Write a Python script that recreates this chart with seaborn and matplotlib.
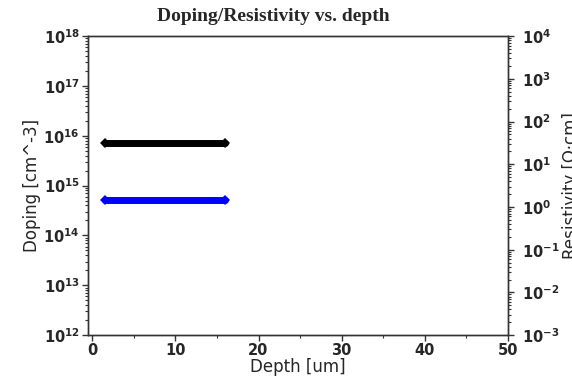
import matplotlib
matplotlib.use("Agg")
import matplotlib.pyplot as plt
import matplotlib.ticker as mticker
import numpy as np
import pandas as pd
import seaborn as sns

# Measured profile
depth_um = [1.5, 16.0]
doping_cm3 = [7.2e15, 7.2e15]
resistivity_ohmcm = [1.45, 1.45]

x_ticks = [0, 10, 20, 30, 40, 50]
doping_range = (1e12, 1e18)
resist_range = (1e-3, 1e4)

sns.set_theme(style="ticks")
plt.rcParams["font.family"] = ["DejaVu Sans"]

fig = plt.figure(figsize=(5.72, 3.80), dpi=100)
ax = fig.add_axes([0.154, 0.118, 0.734, 0.787])
ax2 = ax.twinx()

df = pd.DataFrame({"depth": depth_um, "doping": doping_cm3, "rho": resistivity_ohmcm})

sns.lineplot(data=df, x="depth", y="doping", ax=ax, color="black", lw=5,
             marker="D", markersize=5, markeredgewidth=0, legend=False)
sns.lineplot(data=df, x="depth", y="rho", ax=ax2, color="#0000ff", lw=5,
             marker="D", markersize=5, markeredgewidth=0, legend=False)

for a in (ax, ax2):
    a.set_yscale("log")
    for s in a.spines.values():
        s.set_color("#333333")
        s.set_linewidth(1.0)

ax.set_xlim(-0.5, 50)
ax.set_ylim(*doping_range)
ax2.set_ylim(*resist_range)

ax.set_xticks(x_ticks)
ax.xaxis.set_minor_locator(mticker.MultipleLocator(5))
ax.xaxis.set_minor_formatter(mticker.NullFormatter())
for a in (ax, ax2):
    a.yaxis.set_major_locator(mticker.LogLocator(base=10, numticks=20))
    a.yaxis.set_minor_locator(mticker.LogLocator(base=10, subs=np.arange(2, 10), numticks=20))
    a.yaxis.set_minor_formatter(mticker.NullFormatter())
    a.tick_params(axis="both", which="major", length=4, width=1, color="#333333",
                  pad=2, labelsize=10.5)
    a.tick_params(axis="both", which="minor", length=2, width=0.8, color="#333333")
    for lbl in a.get_yticklabels() + a.get_xticklabels():
        lbl.set_fontweight("bold")
ax2.tick_params(axis="y", which="major", pad=6)

ax.set_xlabel("Depth [um]", fontsize=12, labelpad=0)
ax.set_ylabel("Doping [cm^-3]", fontsize=12, labelpad=2)
ax2.set_xlabel("")
ax2.set_ylabel("Resistivity [Ω·cm]", fontsize=12, labelpad=2)

ax.set_title("Doping/Resistivity vs. depth", fontsize=14, fontweight="bold",
             family=["Liberation Serif", "DejaVu Serif"], x=0.44, pad=11)

fig.savefig("out.png", dpi=100)
